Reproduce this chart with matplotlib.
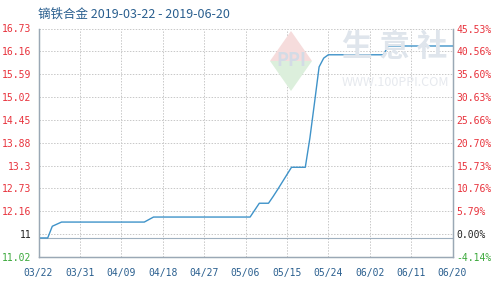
import matplotlib
matplotlib.use("Agg")
import matplotlib.pyplot as plt
import matplotlib.dates as mdates
from matplotlib.patches import Polygon
import numpy as np
import pandas as pd

plt.rcParams['font.family'] = ['Noto Sans CJK SC', 'DejaVu Sans']

title = "镝铁合金 2019-03-22 - 2019-06-20"
base_price = 11.0
dates = ["2019-03-22", "2019-03-24", "2019-03-25", "2019-03-27", "2019-04-14",
         "2019-04-16", "2019-05-07", "2019-05-09", "2019-05-11", "2019-05-12",
         "2019-05-13", "2019-05-16", "2019-05-19", "2019-05-20", "2019-05-21",
         "2019-05-22", "2019-05-23", "2019-05-24", "2019-06-05", "2019-06-06",
         "2019-06-20"]
prices = [11.00, 11.00, 11.28, 11.38, 11.38,
          11.50, 11.50, 11.83, 11.83, 11.99,
          12.16, 12.69, 12.69, 13.39, 14.23,
          15.09, 15.30, 15.38, 15.38, 15.59,
          15.59]
left_labels = ["11.02", "11", "12.16", "12.73", "13.3", "13.88", "14.45",
               "15.02", "15.59", "16.16", "16.73"]
right_labels = ["-4.14%", "0.00%", "5.79%", "10.76%", "15.73%", "20.70%",
                "25.66%", "30.63%", "35.60%", "40.56%", "45.53%"]
pct_min, pct_max = -4.14, 45.53
x_start, x_end = "2019-03-22", "2019-06-20"

red = "#e8323c"
green = "#3aa83a"
blue_txt = "#2a5f8f"
line_c = "#3f93c9"

fig = plt.figure(figsize=(4.99, 2.88), dpi=100)

# watermark (behind the chart)
W, H = 499.0, 288.0
top = Polygon([(270 / W, 1 - 61 / H), (291 / W, 1 - 31 / H), (312 / W, 1 - 61 / H)],
              closed=True, transform=fig.transFigure, facecolor="#f6dcdc",
              edgecolor="none", zorder=0)
bot = Polygon([(270 / W, 1 - 61 / H), (291 / W, 1 - 91 / H), (312 / W, 1 - 61 / H)],
              closed=True, transform=fig.transFigure, facecolor="#dcefdc",
              edgecolor="none", zorder=0)
fig.patches.extend([top, bot])
fig.text(291 / W, 1 - 60 / H, "PPI", fontsize=13, color="#d3dbe6", ha="center",
         va="center", fontweight="bold", zorder=0)
fig.text(395 / W, 1 - 47 / H, "生 意 社", fontsize=22, color="#dfe5ec", ha="center",
         va="center", fontweight="bold", zorder=0)
fig.text(395 / W, 1 - 82 / H, "WWW.100PPI.COM", fontsize=9, color="#e6e9ee",
         ha="center", va="center", zorder=0)

ax = fig.add_axes([38.5 / W, 1 - 257 / H, 414 / W, 228.5 / H])
ax.patch.set_alpha(0)

d = pd.to_datetime(dates)
pct = (np.array(prices) / base_price - 1) * 100
ax.plot(d, pct, color=line_c, lw=1.0, zorder=3)

ax.set_ylim(pct_min, pct_max)
ax.set_xlim(pd.Timestamp(x_start), pd.Timestamp(x_end))
yt = np.linspace(pct_min, pct_max, 11)
ax.set_yticks(yt)
ax.set_yticklabels(left_labels, fontfamily="DejaVu Sans Mono", fontsize=7)
for i, t in enumerate(ax.get_yticklabels()):
    t.set_color(green if i == 0 else ("#222222" if i == 1 else red))

xt = pd.date_range(x_start, x_end, freq="9D")
ax.set_xticks(xt)
ax.xaxis.set_major_formatter(mdates.DateFormatter("%m/%d"))
for t in ax.get_xticklabels():
    t.set_fontfamily("DejaVu Sans Mono")
    t.set_fontsize(7)
    t.set_color(blue_txt)
ax.tick_params(axis="both", length=0)
ax.tick_params(axis="y", pad=5)
ax.tick_params(axis="x", pad=8)

ax2 = ax.twinx()
ax2.set_ylim(pct_min, pct_max)
ax2.set_yticks(yt)
ax2.set_yticklabels(right_labels, fontfamily="DejaVu Sans Mono", fontsize=7)
for i, t in enumerate(ax2.get_yticklabels()):
    t.set_color(green if i == 0 else ("#222222" if i == 1 else red))
ax2.tick_params(axis="y", length=0, pad=3)

ax.grid(True, color="#c8c8c8", ls=(0, (1.5, 1.5)), lw=0.7)
ax.axhline(0, color="#9fb0bf", lw=0.8, zorder=2)
for a in (ax, ax2):
    for s in ("left", "right", "bottom"):
        a.spines[s].set_color("#9aa8b5")
        a.spines[s].set_linewidth(0.9)
    a.spines["top"].set_visible(False)

fig.text(38 / W, 1 - 14 / H, title, fontsize=9, color=blue_txt, ha="left", va="center")

fig.savefig("out.png", dpi=100)
